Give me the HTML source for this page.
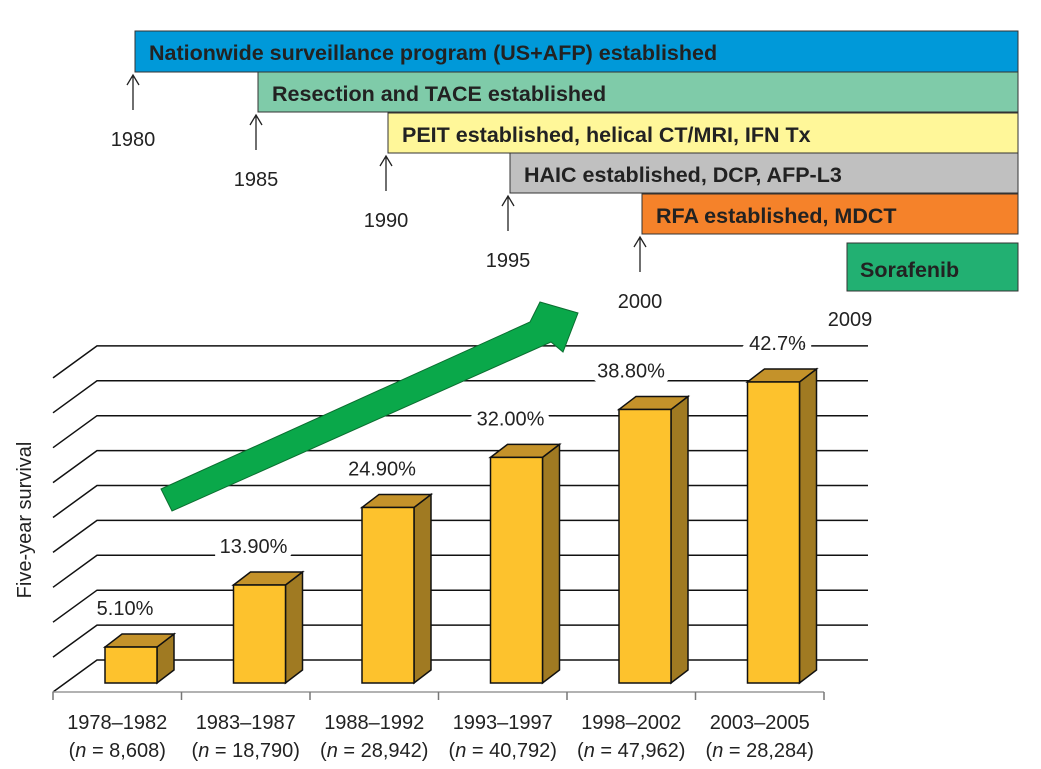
<!DOCTYPE html>
<html><head><meta charset="utf-8"><style>
body{margin:0;background:#fff;width:1041px;height:769px;overflow:hidden}
svg{display:block;font-family:"Liberation Sans",sans-serif}
</style></head><body>
<svg width="1041" height="769" viewBox="0 0 1041 769">
<g id="timeline"></g>
<g id="chart"></g>
</svg>
<script>
const NS="http://www.w3.org/2000/svg";
const categories=["1978–1982","1983–1987","1988–1992","1993–1997","1998–2002","2003–2005"];
const sampleSizes=["8,608","18,790","28,942","40,792","47,962","28,284"];
const survival=[5.1,13.9,24.9,32.0,38.8,42.7];
const valueLabels=["5.10%","13.90%","24.90%","32.00%","38.80%","42.7%"];
const gridTicks=[0,5,10,15,20,25,30,35,40,45];
const milestoneYears=["1980","1985","1990","1995","2000"];
const milestoneText=["Nationwide surveillance program (US+AFP) established","Resection and TACE established","PEIT established, helical CT/MRI, IFN Tx","HAIC established, DCP, AFP-L3","RFA established, MDCT"];

function mk(tag,attrs,parent,text){const e=document.createElementNS(NS,tag);for(const k in attrs)e.setAttribute(k,attrs[k]);if(text!==undefined)e.textContent=text;parent.appendChild(e);return e;}

// timeline
const tl=document.getElementById('timeline');
const boxColors=["#0099d9","#7fcba9","#fff799","#c0c0c0","#f5822a"];
const boxX=[135,258,388,510,642];
const boxY=[31,72,113,153,194];
milestoneText.forEach((t,i)=>{
  const r=mk('rect',{x:boxX[i],y:boxY[i],width:1018-boxX[i],height:i==0?41:40,fill:boxColors[i],stroke:"#333","stroke-width":1},tl);
  
  
  const tx=mk('text',{x:boxX[i]+14,y:boxY[i]+29,"font-size":21.5,"font-weight":"bold",fill:"#222"},tl,t);
  
  
  const ax=boxX[i]-2, top=boxY[i]+(i==0?42:41);
  const a=mk('path',{d:`M${ax} ${top+37} V${top+2} M${ax-6} ${top+12} L${ax} ${top+2} L${ax+6} ${top+12}`,stroke:"#222",fill:"none","stroke-width":1.3},tl);
  
  
  const yl=mk('text',{x:ax,y:top+73,"font-size":20,fill:"#222","text-anchor":"middle"},tl,milestoneYears[i]);
  
  
});
const sr=mk('rect',{x:847,y:243,width:171,height:48,fill:"#22b072",stroke:"#333","stroke-width":1},tl);


const st=mk('text',{x:860,y:277,"font-size":21.5,"font-weight":"bold",fill:"#222"},tl,"Sorafenib");


const y9=mk('text',{x:850,y:326,"font-size":20,fill:"#222","text-anchor":"middle"},tl,"2009");



// chart
const ch=document.getElementById('chart');
const backY0=660, gridStep=34.9/5; // px per %
const gy=v=>backY0-v*gridStep;
const dx=44, dy=32;
gridTicks.forEach(v=>{
  const y=gy(v);
  const l=mk('path',{d:`M53 ${y+dy} L97 ${y} H868`,stroke:"#111",fill:"none","stroke-width":1.5},ch);
  
  
});
const xa=mk('path',{d:`M53 692 H824`,stroke:"#999",fill:"none","stroke-width":1.5},ch);


const slot=(824-53)/categories.length;
for(let i=0;i<=categories.length;i++){
  const t=mk('line',{x1:53+i*slot,x2:53+i*slot,y1:692,y2:700,stroke:"#777","stroke-width":1.5},ch);
  
  
}
const frontBase=683, barScale=7.05, bw=52, bdx=17, bdy=13;
const xc=i=>131+slot*i;
survival.forEach((v,i)=>{
  const x=xc(i)-bw/2, top=frontBase-v*barScale;
  const ly=top-bdy-19;
  const lab=mk('text',{x:xc(i)+(i==5?4:i==4?-14:-6),y:ly,"font-size":20,fill:"#222","text-anchor":"middle",stroke:"#fff","stroke-width":12,"paint-order":"stroke"},ch,valueLabels[i]);
  
  
  const g=mk('g',{},ch);
  
  
  mk('polygon',{points:`${x+bw},${top} ${x+bw+bdx},${top-bdy} ${x+bw+bdx},${frontBase-bdy} ${x+bw},${frontBase}`,fill:"#a07a22",stroke:"#111","stroke-width":1.5},g);
  mk('polygon',{points:`${x},${top} ${x+bdx},${top-bdy} ${x+bw+bdx},${top-bdy} ${x+bw},${top}`,fill:"#c4922a",stroke:"#111","stroke-width":1.5},g);
  mk('rect',{x:x,y:top,width:bw,height:v*barScale,fill:"#fdc22d",stroke:"#111","stroke-width":1.5},g);
  const c1=mk('text',{x:53+slot*(i+0.5),y:729,"font-size":20,fill:"#222","text-anchor":"middle"},ch,categories[i]);
  
  
  const c2=mk('text',{x:53+slot*(i+0.5),y:757,"font-size":20,fill:"#222","text-anchor":"middle"},ch);
  
  
  c2.innerHTML=`(<tspan font-style="italic">n</tspan> = ${sampleSizes[i]})`;
});
const arrow=mk('polygon',{points:"161,489 530,322 540,302 578,313 563,352 551,342 172,511",fill:"#0aa84a",stroke:"#0b6e30","stroke-width":1},ch);


const yt=mk('text',{x:31,y:520,"font-size":20,fill:"#222","text-anchor":"middle",transform:"rotate(-90 31 520)"},ch,"Five-year survival");


</script>
</body></html>
